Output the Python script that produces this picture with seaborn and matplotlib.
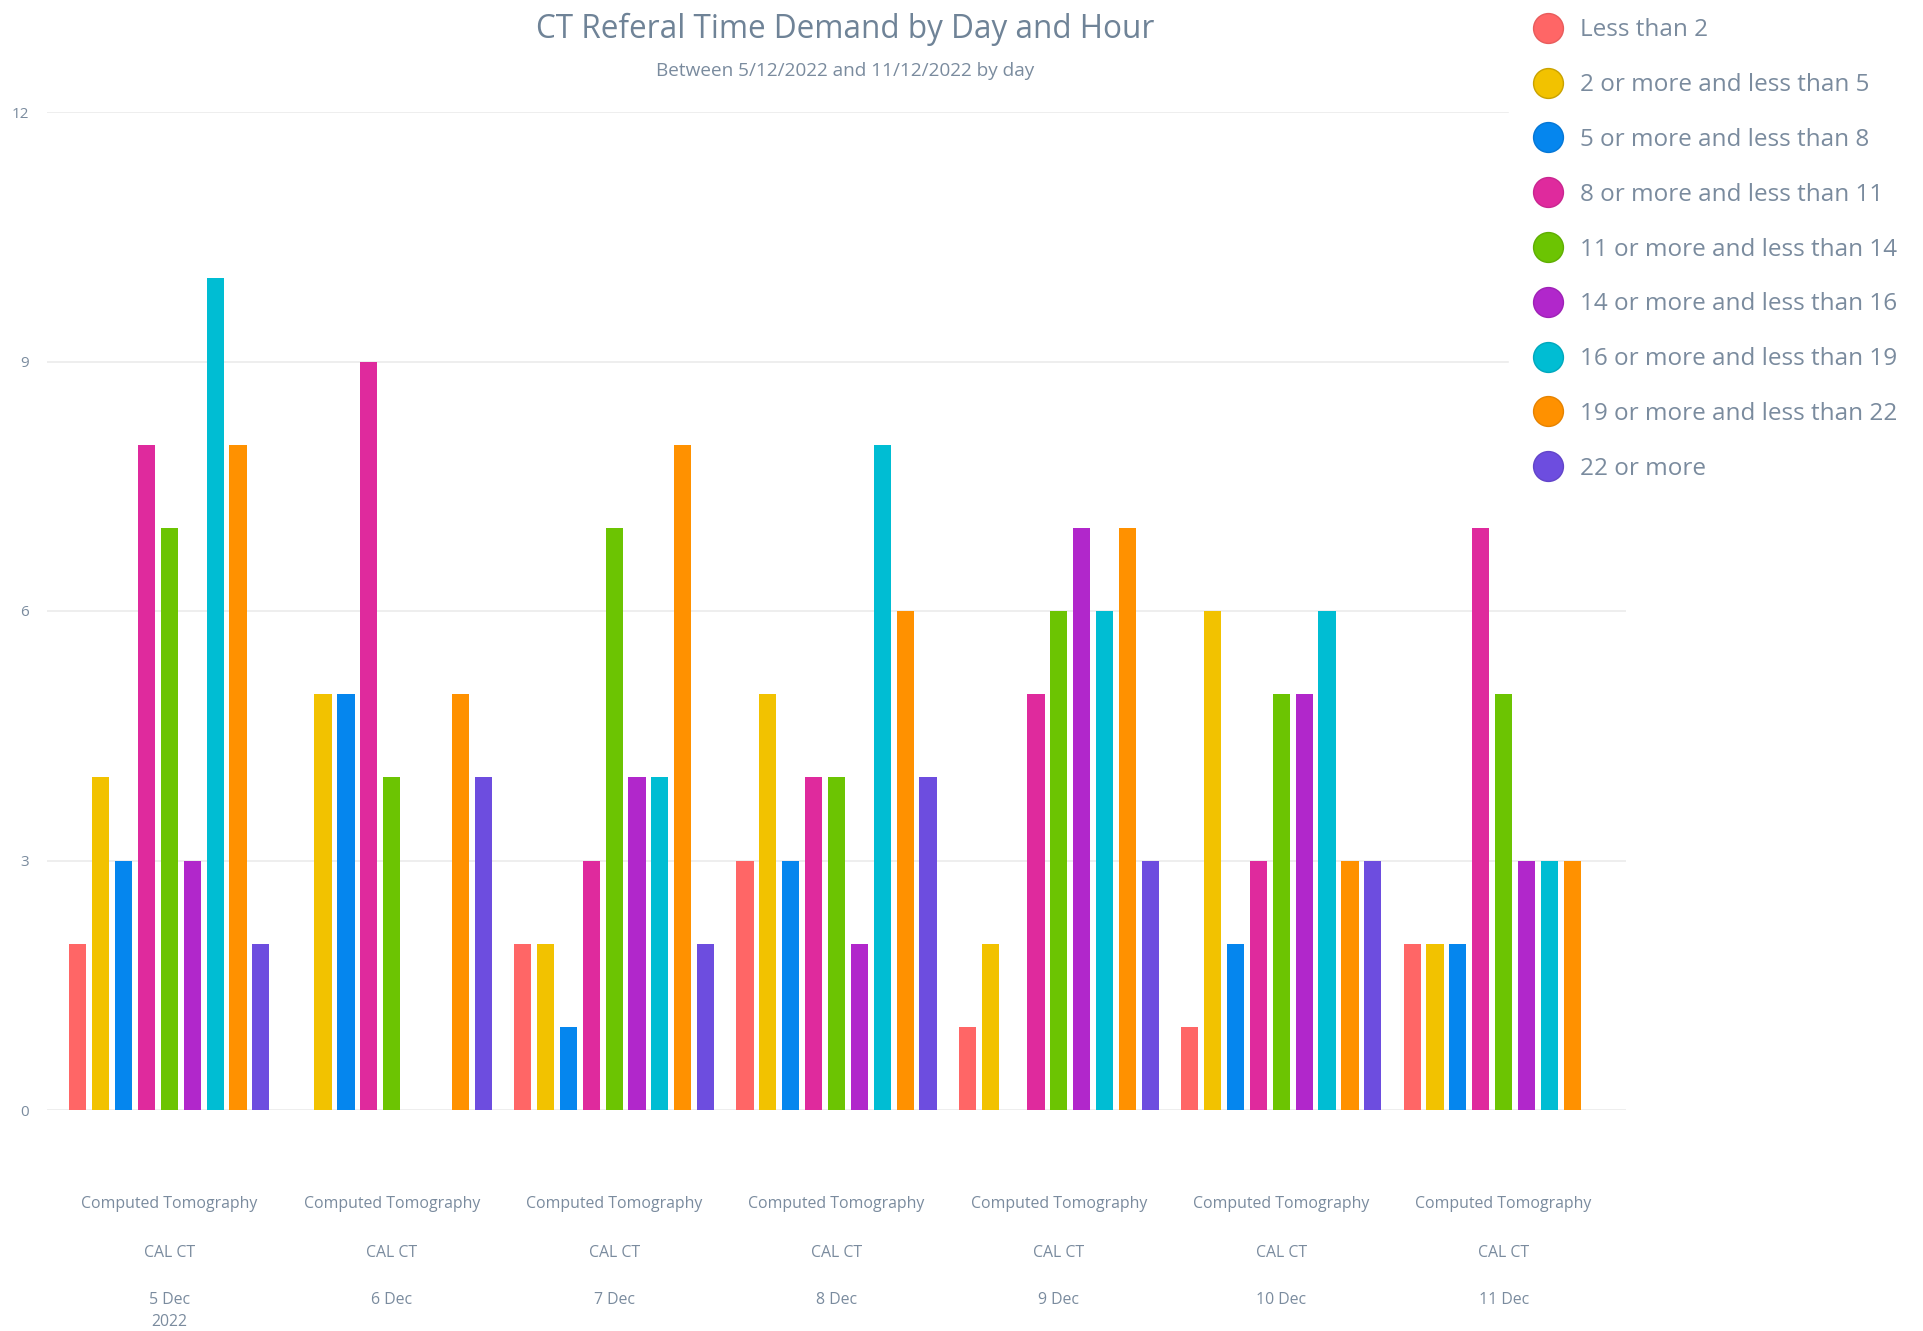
import matplotlib
matplotlib.use("Agg")
import matplotlib.pyplot as plt
from matplotlib.lines import Line2D
import seaborn as sns
import pandas as pd

days = ["5 Dec", "6 Dec", "7 Dec", "8 Dec", "9 Dec", "10 Dec", "11 Dec"]
day_extra = ["2022", "", "", "", "", "", ""]
hours = ["Less than 2", "2 or more and less than 5", "5 or more and less than 8",
         "8 or more and less than 11", "11 or more and less than 14",
         "14 or more and less than 16", "16 or more and less than 19",
         "19 or more and less than 22", "22 or more"]
colors = ["#FF6666", "#F2C200", "#0586EE", "#DF2A9D", "#6CC402",
          "#B127CB", "#00BDD3", "#FF9100", "#6D4DDF"]
edge_colors = ["#E85C5C", "#C9A200", "#0577D6", "#C92690", "#5FAE02",
               "#9E22B6", "#00A8BD", "#E68300", "#6245C9"]

v_5dec = [2, 4, 3, 8, 7, 3, 10, 8, 2]
v_6dec = [0, 5, 5, 9, 4, 0, 0, 5, 4]
v_7dec = [2, 2, 1, 3, 7, 4, 4, 8, 2]
v_8dec = [3, 5, 3, 4, 4, 2, 8, 6, 4]
v_9dec = [1, 2, 0, 5, 6, 7, 6, 7, 3]
v_10dec = [1, 6, 2, 3, 5, 5, 6, 3, 3]
v_11dec = [2, 2, 2, 7, 5, 3, 3, 3, 0]
values = [v_5dec, v_6dec, v_7dec, v_8dec, v_9dec, v_10dec, v_11dec]

rows = []
for d, vals in zip(days, values):
    for h, v in zip(hours, vals):
        rows.append({"day": d, "hour": h, "count": v})
df = pd.DataFrame(rows)

sns.set_style("white")
plt.rcParams["font.family"] = ["Open Sans", "DejaVu Sans"]

txt = "#7A8B9E"
W, H = 1924, 1331
fig = plt.figure(figsize=(W / 100, H / 100), dpi=100)
ax = fig.add_axes([47 / W, 1 - 1110 / H, (1626 - 47) / W, (1110 - 112) / H])

palette = dict(zip(hours, colors))
sns.barplot(data=df, x="day", y="count", hue="hour", order=days, hue_order=hours,
            palette=palette, saturation=1, width=0.926, gap=0.25, errorbar=None,
            linewidth=0, ax=ax, legend=False, zorder=3)

ax.set_xlim(-0.55, 6.55)
ax.set_ylim(0, 12)
ax.set_yticks([0, 3, 6, 9, 12])
ax.yaxis.grid(True, color="#EDEDED", linewidth=1.3, zorder=0)
ax.set_axisbelow(True)
for s in ax.spines.values():
    s.set_visible(False)
ax.set_xlabel("")
ax.set_ylabel("")
ax.tick_params(axis="y", length=0, pad=13, labelsize=11, labelcolor=txt)
ax.set_xticks(range(len(days)))
ax.set_xticklabels(["Computed Tomography"] * len(days))
ax.tick_params(axis="x", length=0, pad=62, labelsize=11.4, labelcolor=txt)

tr = ax.get_xaxis_transform()
for i, d in enumerate(days):
    ax.text(i, -0.1428, "CAL CT", transform=tr, ha="center", va="center",
            fontsize=11.4, color=txt)
    ax.text(i, -0.1899, d, transform=tr, ha="center", va="center",
            fontsize=11.4, color=txt)
    if day_extra[i]:
        ax.text(i, -0.2129, day_extra[i], transform=tr, ha="center", va="center",
                fontsize=11.4, color=txt)

fig.text(845 / W, 1 - 29 / H, "CT Referal Time Demand by Day and Hour",
         ha="center", va="center", fontsize=22.7, color="#6F8397")
fig.text(845 / W, 1 - 71 / H, "Between 5/12/2022 and 11/12/2022 by day",
         ha="center", va="center", fontsize=13.7, color=txt)

handles = [Line2D([0], [0], marker="o", linestyle="none", markersize=21.5,
                  markerfacecolor=c, markeredgecolor=e, markeredgewidth=1.0)
           for c, e in zip(colors, edge_colors)]
leg = fig.legend(handles, hours, loc="upper left", bbox_to_anchor=(1509 / W, 1.0063),
                 fontsize=17.5, frameon=True, facecolor="white", edgecolor="white",
                 framealpha=1, handlelength=1.0, handletextpad=0.81,
                 labelspacing=1.267, borderpad=1.1, borderaxespad=0)
for t in leg.get_texts():
    t.set_color(txt)

fig.savefig("out.png", dpi=100, facecolor="white")
